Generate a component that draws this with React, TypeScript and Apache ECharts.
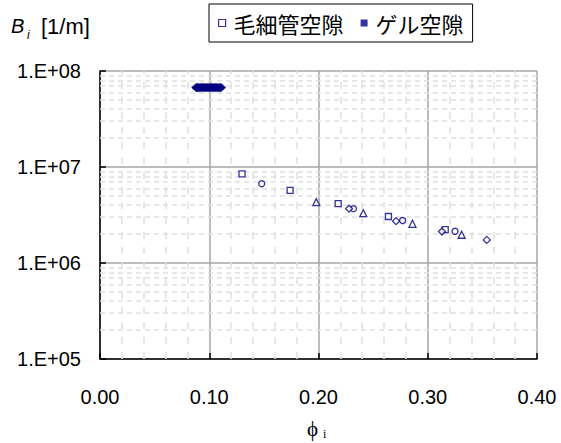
import React, { useEffect, useRef } from "react";
import * as echarts from "echarts";

// Capillary pore data (open markers, grouped by marker shape in the original)
const capSquares: number[][] = [
  [0.130, 8.5e6], [0.174, 5.7e6], [0.218, 4.15e6], [0.264, 3.05e6], [0.316, 2.23e6],
];
const capCircles: number[][] = [
  [0.148, 6.7e6], [0.232, 3.68e6], [0.277, 2.77e6], [0.325, 2.14e6],
];
const capTriangles: number[][] = [
  [0.198, 4.3e6], [0.241, 3.3e6], [0.286, 2.56e6], [0.331, 1.97e6],
];
const capDiamonds: number[][] = [
  [0.228, 3.68e6], [0.271, 2.73e6], [0.313, 2.13e6], [0.354, 1.74e6],
];
// Gel pore data (filled diamonds)
const gelPoints: number[][] = [
  [0.088, 6.72e7], [0.0885, 6.7e7], [0.089, 6.7e7], [0.090, 6.75e7], [0.091, 6.68e7], [0.092, 6.74e7],
  [0.093, 6.7e7], [0.094, 6.76e7], [0.095, 6.71e7], [0.096, 6.73e7], [0.097, 6.69e7],
  [0.098, 6.75e7], [0.099, 6.7e7], [0.100, 6.74e7], [0.101, 6.68e7], [0.102, 6.76e7],
  [0.103, 6.72e7], [0.104, 6.7e7], [0.105, 6.75e7], [0.106, 6.71e7], [0.107, 6.74e7],
  [0.108, 6.69e7], [0.109, 6.73e7], [0.110, 6.71e7], [0.111, 6.74e7],
];

const legendNames = ["毛細管空隙", "ゲル空隙"];
const xMinorLines = [0.02, 0.04, 0.06, 0.08, 0.12, 0.14, 0.16, 0.18, 0.22, 0.24, 0.26, 0.28, 0.32, 0.34, 0.36, 0.38];
const yMinorLines = [
  2e5, 3e5, 4e5, 5e5, 6e5, 7e5, 8e5, 9e5,
  2e6, 3e6, 4e6, 5e6, 6e6, 7e6, 8e6, 9e6,
  2e7, 3e7, 4e7, 5e7, 6e7, 7e7, 8e7, 9e7,
];

const NAVY = "#000080";

export default function App() {
  const ref = useRef<HTMLDivElement>(null);
  useEffect(() => {
    if (!ref.current) return;
    const chart = echarts.init(ref.current, null, { renderer: "svg" });
    const openStyle = { color: "#fff", borderColor: NAVY, borderWidth: 1.3 };
    const minorH = { color: "#e0e0e0", width: 1.5, type: [5, 4] as any };
    const minorV = { color: "#e0e0e0", width: 1.5, type: [7, 8] as any };
    chart.setOption({
      animation: false,
      backgroundColor: "#fff",
      textStyle: { fontFamily: "Liberation Sans, Arial, sans-serif" },
      grid: { left: 100, right: 24, top: 71, bottom: 84, containLabel: false },
      legend: {
        left: 209,
        top: 4,
        orient: "horizontal",
        borderColor: "#000",
        borderWidth: 1,
        padding: [8, 9, 8, 9],
        itemWidth: 7,
        itemHeight: 7,
        itemGap: 17,
        selectedMode: false,
        textStyle: { fontSize: 22, fontFamily: "Noto Sans CJK JP", color: "#000", padding: [0, 0, 0, 3] },
        data: [
          { name: legendNames[0], icon: "rect", itemStyle: { color: "#fff", borderColor: NAVY, borderWidth: 1.2 } },
          { name: legendNames[1], icon: "rect", itemStyle: { color: NAVY, borderWidth: 0 } },
        ],
      },
      xAxis: {
        type: "value",
        min: 0,
        max: 0.4,
        interval: 0.1,
        axisLine: { show: true, lineStyle: { color: "#000", width: 1.5 } },
        axisTick: { show: true, inside: true, length: 6, lineStyle: { color: "#000", width: 1.5 } },
        axisLabel: {
          fontSize: 20,
          color: "#000",
          margin: 28,
          formatter: (v: number) => v.toFixed(2),
        },
        splitLine: { show: true, lineStyle: { color: "#a6a6a6", width: 1.5 } },
      },
      yAxis: {
        type: "log",
        logBase: 10,
        min: 1e5,
        max: 1e8,
        axisLine: { show: true, onZero: false, lineStyle: { color: "#000", width: 1.5 } },
        axisTick: { show: true, inside: true, length: 6, lineStyle: { color: "#000", width: 1.5 } },
        axisLabel: {
          fontSize: 20,
          color: "#000",
          margin: 19,
          formatter: (v: number) => {
            const e = Math.round(Math.log10(v));
            return "1.E+" + String(e).padStart(2, "0");
          },
        },
        splitLine: { show: true, lineStyle: { color: "#a6a6a6", width: 1.5 } },
      },
      series: [
        {
          name: "minor",
          type: "scatter",
          data: [],
          z: 1,
          silent: true,
          markLine: {
            z: 1,
            silent: true,
            symbol: "none",
            label: { show: false },
            animation: false,
            lineStyle: minorH,
            data: [
              ...xMinorLines.map((v) => ({ xAxis: v, lineStyle: minorV })),
              ...yMinorLines.map((v) => ({ yAxis: v })),
            ],
          },
        },
        { name: legendNames[0], type: "scatter", z: 3, symbol: "rect", symbolSize: 6, itemStyle: openStyle, data: capSquares },
        { name: legendNames[0], type: "scatter", z: 3, symbol: "circle", symbolSize: 6, itemStyle: openStyle, data: capCircles },
        { name: legendNames[0], type: "scatter", z: 3, symbol: "triangle", symbolSize: 7, itemStyle: openStyle, data: capTriangles },
        { name: legendNames[0], type: "scatter", z: 3, symbol: "diamond", symbolSize: 7, itemStyle: openStyle, data: capDiamonds },
        { name: legendNames[1], type: "scatter", z: 4, symbol: "diamond", symbolSize: [9, 8], itemStyle: { color: NAVY, borderColor: NAVY, borderWidth: 0.8 }, data: gelPoints },
      ],
      graphic: [
        { type: "text", left: 11, top: 16, style: { text: "B", fontSize: 20, fontStyle: "italic", fontFamily: "Liberation Sans", fill: "#000" } },
        { type: "text", left: 27, top: 29, style: { text: "i", fontSize: 12, fontStyle: "italic", fontFamily: "Liberation Sans", fill: "#000" } },
        { type: "text", left: 41, top: 15, style: { text: "[1/m]", fontSize: 22, fontFamily: "Liberation Sans", fill: "#000" } },
        { type: "text", left: 307, top: 418, style: { text: "ϕ", fontSize: 21, fontFamily: "Liberation Serif", fill: "#000" } },
        { type: "text", left: 323, top: 428, style: { text: "i", fontSize: 12, fontFamily: "Liberation Serif", fill: "#000" } },
      ],
    });
    return () => chart.dispose();
  }, []);
  return (
    <div
      ref={ref}
      style={{ position: "absolute", left: 0, top: 0, width: 561, height: 443 }}
    />
  );
}
